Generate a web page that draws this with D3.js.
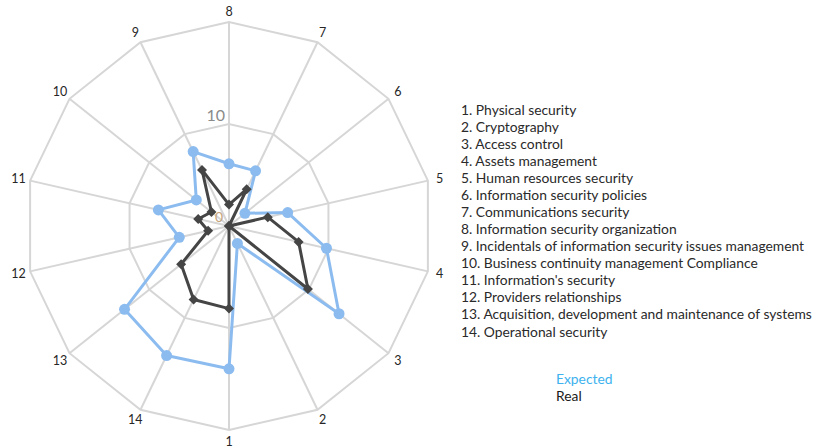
<!DOCTYPE html>
<html>
<head>
<meta charset="utf-8">
<script src="https://cdn.jsdelivr.net/npm/d3@7"></script>
<style>
  html, body { margin: 0; padding: 0; background: #fff; }
  svg { display: block; }
</style>
</head>
<body>
<svg id="chart" width="820" height="447"></svg>
<script>
// ---- data ----
const axisLabels = ["1","2","3","4","5","6","7","8","9","10","11","12","13","14"];
const expected = [14.0, 1.9, 13.8, 9.8, 5.9, 2.0, 6.0, 6.1, 8.1, 4.1, 7.1, 5.0, 13.1, 14.1];
const real     = [8.1, 0, 9.9, 7.0, 3.9, 0, 4.0, 2.1, 6.1, 2.2, 3.1, 2.1, 6.0, 8.0];
const ringValues = [10, 20];
const ringLabels = ["0", "10"];
const legendItems = [
  "1. Physical security",
  "2. Cryptography",
  "3. Access control",
  "4. Assets management",
  "5. Human resources security",
  "6. Information security policies",
  "7. Communications security",
  "8. Information security organization",
  "9. Incidentals of information security issues management",
  "10. Business continuity management Compliance",
  "11. Information's security",
  "12. Providers relationships",
  "13. Acquisition, development and maintenance of systems",
  "14. Operational security"
];
const seriesNames = ["Expected", "Real"];

// ---- layout ----
const svg = d3.select("#chart");
const cx = 229, cy = 226, R = 204;
const n = axisLabels.length;
const step = 2 * Math.PI / n;
const r = d3.scaleLinear().domain([0, 20]).range([0, R]);
const ang = i => Math.PI - i * step;           // lineRadial angle (clockwise from 12 o'clock)
const px = (i, v) => cx + r(v) * Math.sin(i * step);
const py = (i, v) => cy + r(v) * Math.cos(i * step);

const g = svg.append("g");

// grid rings
const ringLine = d3.lineRadial()
  .angle((d, i) => ang(i))
  .radius(d => r(d))
  .curve(d3.curveLinearClosed);
g.selectAll("path.ring").data(ringValues).enter().append("path")
  .attr("class", "ring")
  .attr("transform", `translate(${cx},${cy})`)
  .attr("d", v => ringLine(d3.range(n).map(() => v)))
  .attr("fill", "none").attr("stroke", "#d6d6d6").attr("stroke-width", 2);

// spokes
g.selectAll("line.spoke").data(d3.range(n)).enter().append("line")
  .attr("x1", cx).attr("y1", cy)
  .attr("x2", i => px(i, 20)).attr("y2", i => py(i, 20))
  .attr("stroke", "#d6d6d6").attr("stroke-width", 2);

// axis labels
g.selectAll("text.axl").data(axisLabels).enter().append("text")
  .attr("x", (d, i) => px(i, 20) + 12 * Math.sin(i * step))
  .attr("y", (d, i) => py(i, 20) + 11 * Math.cos(i * step))
  .attr("text-anchor", "middle")
  .attr("dominant-baseline", "central")
  .attr("font-family", "Lato, 'Open Sans', sans-serif")
  .attr("font-size", 12.5)
  .attr("fill", "#262626")
  .text(d => d);

// ring value labels
g.append("text").attr("x", 225).attr("y", 121).attr("text-anchor", "end")
  .attr("font-family", "Lato, 'Open Sans', sans-serif").attr("font-size", 16)
  .attr("fill", "#8a8a8a").text(ringLabels[1]);
g.append("text").attr("x", 223).attr("y", 222).attr("text-anchor", "end")
  .attr("font-family", "Lato, 'Open Sans', sans-serif").attr("font-size", 14)
  .attr("fill", "#c4a37c").text(ringLabels[0]);

// series
const line = d3.lineRadial()
  .angle((d, i) => ang(i))
  .radius(d => r(d))
  .curve(d3.curveLinearClosed);

const blue = "#8cbcef", dark = "#454545";

g.append("path").datum(expected)
  .attr("transform", `translate(${cx},${cy})`)
  .attr("d", line)
  .attr("fill", "none").attr("stroke", blue).attr("stroke-width", 3)
  .attr("stroke-linejoin", "round");
g.selectAll("circle.exp").data(expected).enter().append("circle")
  .attr("cx", (d, i) => px(i, d)).attr("cy", (d, i) => py(i, d))
  .attr("r", 5.5).attr("fill", blue);

g.append("path").datum(real)
  .attr("transform", `translate(${cx},${cy})`)
  .attr("d", line)
  .attr("fill", "none").attr("stroke", dark).attr("stroke-width", 3)
  .attr("stroke-linejoin", "round");
const diamond = d3.symbol().type(d3.symbolSquare).size(50);
g.selectAll("path.real").data(real).enter().append("path")
  .attr("d", diamond)
  .attr("transform", (d, i) => `translate(${px(i, d)},${py(i, d)}) rotate(45)`)
  .attr("fill", dark);

// legend list
const leg = svg.append("g");
const legText = leg.selectAll("text").data(legendItems).enter().append("text")
  .attr("x", 461)
  .attr("y", (d, i) => 114.5 + i * 17.08)
  .attr("font-family", "Lato, 'Open Sans', sans-serif")
  .attr("font-size", 13)
  .attr("fill", "#2a2a2a")
  .text(d => d);
// fit widest line width to reference (~351px)
const widest = d3.max(legText.nodes(), nd => nd.getComputedTextLength());
const fs = 13 * 351 / widest;
legText.attr("font-size", fs);

// series legend
svg.append("text").attr("x", 556).attr("y", 383.5)
  .attr("font-family", "Lato, 'Open Sans', sans-serif").attr("font-size", fs)
  .attr("fill", "#3db2ee").text(seriesNames[0]);
svg.append("text").attr("x", 556).attr("y", 400.5)
  .attr("font-family", "Lato, 'Open Sans', sans-serif").attr("font-size", fs)
  .attr("fill", "#1a1a1a").text(seriesNames[1]);
</script>
</body>
</html>
